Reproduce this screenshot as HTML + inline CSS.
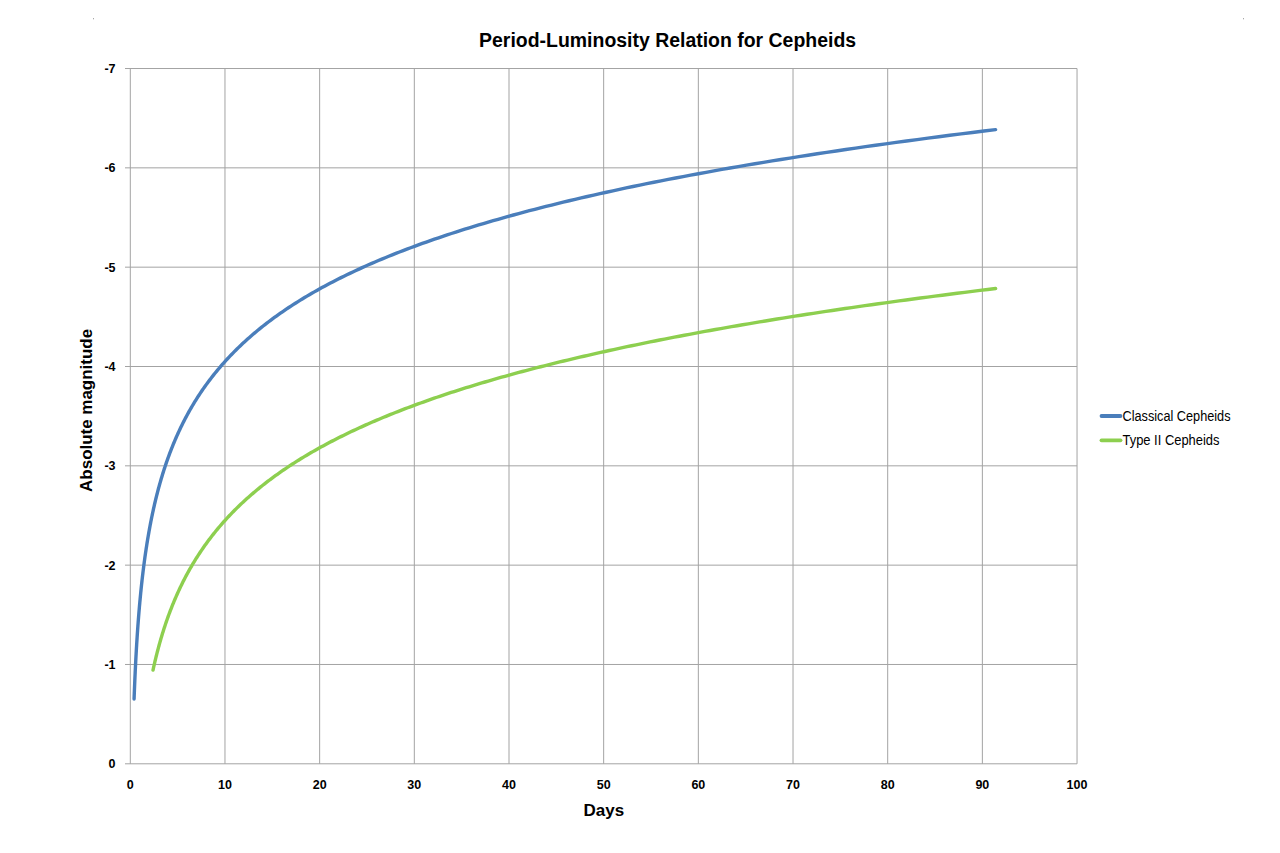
<!DOCTYPE html>
<html><head><meta charset="utf-8"><style>
html,body{margin:0;padding:0;background:#fff;width:1280px;height:853px;overflow:hidden}
svg{position:absolute;left:0;top:0}
</style></head><body>
<svg width="1280" height="853" viewBox="0 0 1280 853">
<rect x="93" y="18" width="1" height="1" fill="#a8a8a8"/><rect x="93" y="19" width="1" height="1" fill="#e4e4e4"/>
<rect x="1243" y="18" width="1" height="1" fill="#a8a8a8"/><rect x="1243" y="19" width="1" height="1" fill="#e4e4e4"/>
<g stroke="#a3a3a3" stroke-width="1" fill="none">
<line x1="130.30" y1="68.52" x2="130.30" y2="763.81"/>
<line x1="224.97" y1="68.52" x2="224.97" y2="763.81"/>
<line x1="319.65" y1="68.52" x2="319.65" y2="763.81"/>
<line x1="414.32" y1="68.52" x2="414.32" y2="763.81"/>
<line x1="509.00" y1="68.52" x2="509.00" y2="763.81"/>
<line x1="603.67" y1="68.52" x2="603.67" y2="763.81"/>
<line x1="698.34" y1="68.52" x2="698.34" y2="763.81"/>
<line x1="793.02" y1="68.52" x2="793.02" y2="763.81"/>
<line x1="887.69" y1="68.52" x2="887.69" y2="763.81"/>
<line x1="982.37" y1="68.52" x2="982.37" y2="763.81"/>
<line x1="1077.04" y1="68.52" x2="1077.04" y2="763.81"/>
<line x1="125" y1="68.52" x2="1077.04" y2="68.52"/>
<line x1="125" y1="167.85" x2="1077.04" y2="167.85"/>
<line x1="125" y1="267.17" x2="1077.04" y2="267.17"/>
<line x1="125" y1="366.50" x2="1077.04" y2="366.50"/>
<line x1="125" y1="465.83" x2="1077.04" y2="465.83"/>
<line x1="125" y1="565.15" x2="1077.04" y2="565.15"/>
<line x1="125" y1="664.48" x2="1077.04" y2="664.48"/>
<line x1="125" y1="763.81" x2="1077.04" y2="763.81"/>
</g>
<polyline fill="none" stroke="#4a7ebb" stroke-width="3.4" stroke-linecap="round" stroke-linejoin="round" points="134.09,698.95 134.14,697.52 134.19,696.10 134.24,694.68 134.30,693.25 134.35,691.83 134.41,690.41 134.46,688.98 134.52,687.56 134.58,686.14 134.64,684.71 134.70,683.29 134.76,681.87 134.82,680.44 134.88,679.02 134.94,677.60 135.01,676.17 135.07,674.75 135.14,673.33 135.20,671.90 135.27,670.48 135.34,669.06 135.41,667.63 135.48,666.21 135.55,664.79 135.62,663.36 135.69,661.94 135.76,660.52 135.84,659.09 135.91,657.67 135.99,656.25 136.07,654.82 136.15,653.40 136.23,651.98 136.31,650.55 136.39,649.13 136.47,647.71 136.56,646.28 136.64,644.86 136.73,643.44 136.82,642.01 136.91,640.59 137.00,639.17 137.09,637.74 137.18,636.32 137.28,634.90 137.37,633.47 137.47,632.05 137.57,630.63 137.67,629.20 137.77,627.78 137.87,626.36 137.97,624.93 138.08,623.51 138.18,622.09 138.29,620.66 138.40,619.24 138.51,617.82 138.62,616.39 138.74,614.97 138.85,613.55 138.97,612.12 139.09,610.70 139.21,609.28 139.33,607.85 139.45,606.43 139.58,605.00 139.71,603.58 139.83,602.16 139.96,600.73 140.10,599.31 140.23,597.89 140.37,596.46 140.50,595.04 140.64,593.62 140.79,592.19 140.93,590.77 141.07,589.35 141.22,587.92 141.37,586.50 141.52,585.08 141.68,583.65 141.83,582.23 141.99,580.81 142.15,579.38 142.31,577.96 142.47,576.54 142.64,575.11 142.81,573.69 142.98,572.27 143.15,570.84 143.33,569.42 143.51,568.00 143.69,566.57 143.87,565.15 144.06,563.73 144.25,562.30 144.44,560.88 144.63,559.46 144.82,558.03 145.02,556.61 145.22,555.19 145.43,553.76 145.64,552.34 145.85,550.92 146.06,549.49 146.27,548.07 146.49,546.65 146.71,545.22 146.94,543.80 147.16,542.38 147.40,540.95 147.63,539.53 147.87,538.11 148.11,536.68 148.35,535.26 148.60,533.84 148.85,532.41 149.10,530.99 149.36,529.57 149.62,528.14 149.88,526.72 150.15,525.30 150.42,523.87 150.70,522.45 150.97,521.03 151.26,519.60 151.54,518.18 151.83,516.76 152.13,515.33 152.43,513.91 152.73,512.49 153.04,511.06 153.35,509.64 153.66,508.22 153.98,506.79 154.31,505.37 154.63,503.94 154.97,502.52 155.30,501.10 155.65,499.67 155.99,498.25 156.34,496.83 156.70,495.40 157.06,493.98 157.43,492.56 157.80,491.13 158.17,489.71 158.55,488.29 158.94,486.86 159.33,485.44 159.73,484.02 160.13,482.59 160.54,481.17 160.95,479.75 161.37,478.32 161.80,476.90 162.23,475.48 162.66,474.05 163.11,472.63 163.55,471.21 164.01,469.78 164.47,468.36 164.94,466.94 165.41,465.51 165.89,464.09 166.38,462.67 166.87,461.24 167.37,459.82 167.88,458.40 168.39,456.97 168.91,455.55 169.44,454.13 169.97,452.70 170.52,451.28 171.07,449.86 171.62,448.43 172.19,447.01 172.76,445.59 173.34,444.16 173.93,442.74 174.53,441.32 175.13,439.89 175.74,438.47 176.37,437.05 177.00,435.62 177.63,434.20 178.28,432.78 178.94,431.35 179.60,429.93 180.28,428.51 180.96,427.08 181.65,425.66 182.35,424.24 183.07,422.81 183.79,421.39 184.52,419.97 185.26,418.54 186.01,417.12 186.77,415.70 187.54,414.27 188.33,412.85 189.12,411.43 189.92,410.00 190.74,408.58 191.57,407.16 192.40,405.73 193.25,404.31 194.11,402.89 194.99,401.46 195.87,400.04 196.77,398.61 197.68,397.19 198.60,395.77 199.53,394.34 200.48,392.92 201.44,391.50 202.41,390.07 203.39,388.65 204.39,387.23 205.41,385.80 206.43,384.38 207.47,382.96 208.53,381.53 209.60,380.11 210.68,378.69 211.78,377.26 212.90,375.84 214.03,374.42 215.17,372.99 216.33,371.57 217.51,370.15 218.70,368.72 219.91,367.30 221.13,365.88 222.37,364.45 223.63,363.03 224.91,361.61 226.20,360.18 227.51,358.76 228.84,357.34 230.19,355.91 231.56,354.49 232.94,353.07 234.34,351.64 235.77,350.22 237.21,348.80 238.67,347.37 240.15,345.95 241.65,344.53 243.17,343.10 244.72,341.68 246.28,340.26 247.87,338.83 249.47,337.41 251.10,335.99 252.76,334.56 254.43,333.14 256.13,331.72 257.85,330.29 259.59,328.87 261.36,327.45 263.15,326.02 264.97,324.60 266.81,323.18 268.67,321.75 270.57,320.33 272.48,318.91 274.43,317.48 276.40,316.06 278.39,314.64 280.42,313.21 282.47,311.79 284.55,310.37 286.66,308.94 288.80,307.52 290.97,306.10 293.16,304.67 295.39,303.25 297.65,301.83 299.93,300.40 302.25,298.98 304.60,297.55 306.99,296.13 309.40,294.71 311.85,293.28 314.33,291.86 316.85,290.44 319.40,289.01 321.98,287.59 324.60,286.17 327.26,284.74 329.95,283.32 332.68,281.90 335.45,280.47 338.25,279.05 341.10,277.63 343.98,276.20 346.90,274.78 349.86,273.36 352.86,271.93 355.91,270.51 358.99,269.09 362.12,267.66 365.29,266.24 368.50,264.82 371.76,263.39 375.06,261.97 378.40,260.55 381.80,259.12 385.23,257.70 388.72,256.28 392.25,254.85 395.83,253.43 399.46,252.01 403.14,250.58 406.87,249.16 410.65,247.74 414.49,246.31 418.37,244.89 422.31,243.47 426.30,242.04 430.35,240.62 434.45,239.20 438.61,237.77 442.83,236.35 447.10,234.93 451.43,233.50 455.82,232.08 460.27,230.66 464.78,229.23 469.35,227.81 473.99,226.39 478.69,224.96 483.45,223.54 488.28,222.12 493.17,220.69 498.13,219.27 503.16,217.85 508.26,216.42 513.43,215.00 518.67,213.58 523.98,212.15 529.36,210.73 534.81,209.31 540.34,207.88 545.95,206.46 551.63,205.04 557.39,203.61 563.23,202.19 569.15,200.77 575.15,199.34 581.23,197.92 587.40,196.50 593.65,195.07 599.98,193.65 606.40,192.22 612.91,190.80 619.51,189.38 626.20,187.95 632.98,186.53 639.85,185.11 646.81,183.68 653.88,182.26 661.03,180.84 668.29,179.41 675.65,177.99 683.10,176.57 690.66,175.14 698.32,173.72 706.09,172.30 713.96,170.87 721.94,169.45 730.02,168.03 738.22,166.60 746.54,165.18 754.96,163.76 763.50,162.33 772.16,160.91 780.93,159.49 789.83,158.06 798.84,156.64 807.98,155.22 817.25,153.79 826.64,152.37 836.16,150.95 845.81,149.52 855.59,148.10 865.51,146.68 875.56,145.25 885.75,143.83 896.08,142.41 906.55,140.98 917.16,139.56 927.92,138.14 938.82,136.71 949.87,135.29 961.08,133.87 972.44,132.44 983.95,131.02 995.62,129.60"/>
<polyline fill="none" stroke="#8dcf4f" stroke-width="3.4" stroke-linecap="round" stroke-linejoin="round" points="153.02,670.05 153.23,669.10 153.44,668.15 153.65,667.19 153.86,666.24 154.08,665.28 154.30,664.33 154.52,663.38 154.74,662.42 154.96,661.47 155.19,660.51 155.41,659.56 155.64,658.61 155.88,657.65 156.11,656.70 156.34,655.75 156.58,654.79 156.82,653.84 157.07,652.88 157.31,651.93 157.56,650.98 157.81,650.02 158.06,649.07 158.31,648.11 158.57,647.16 158.83,646.21 159.09,645.25 159.35,644.30 159.62,643.35 159.88,642.39 160.15,641.44 160.43,640.48 160.70,639.53 160.98,638.58 161.26,637.62 161.54,636.67 161.83,635.71 162.12,634.76 162.41,633.81 162.70,632.85 163.00,631.90 163.30,630.95 163.60,629.99 163.90,629.04 164.21,628.08 164.52,627.13 164.83,626.18 165.15,625.22 165.47,624.27 165.79,623.32 166.11,622.36 166.44,621.41 166.77,620.45 167.10,619.50 167.44,618.55 167.78,617.59 168.12,616.64 168.47,615.68 168.82,614.73 169.17,613.78 169.52,612.82 169.88,611.87 170.24,610.92 170.61,609.96 170.98,609.01 171.35,608.05 171.73,607.10 172.10,606.15 172.49,605.19 172.87,604.24 173.26,603.28 173.65,602.33 174.05,601.38 174.45,600.42 174.85,599.47 175.26,598.52 175.67,597.56 176.09,596.61 176.50,595.65 176.93,594.70 177.35,593.75 177.78,592.79 178.22,591.84 178.66,590.88 179.10,589.93 179.54,588.98 179.99,588.02 180.45,587.07 180.91,586.12 181.37,585.16 181.84,584.21 182.31,583.25 182.78,582.30 183.26,581.35 183.75,580.39 184.23,579.44 184.73,578.48 185.23,577.53 185.73,576.58 186.23,575.62 186.75,574.67 187.26,573.72 187.78,572.76 188.31,571.81 188.84,570.85 189.37,569.90 189.91,568.95 190.46,567.99 191.01,567.04 191.56,566.09 192.12,565.13 192.69,564.18 193.26,563.22 193.83,562.27 194.41,561.32 195.00,560.36 195.59,559.41 196.19,558.45 196.79,557.50 197.40,556.55 198.01,555.59 198.63,554.64 199.26,553.69 199.89,552.73 200.52,551.78 201.16,550.82 201.81,549.87 202.46,548.92 203.12,547.96 203.79,547.01 204.46,546.05 205.14,545.10 205.82,544.15 206.51,543.19 207.21,542.24 207.91,541.29 208.62,540.33 209.34,539.38 210.06,538.42 210.79,537.47 211.53,536.52 212.27,535.56 213.02,534.61 213.77,533.65 214.54,532.70 215.31,531.75 216.08,530.79 216.87,529.84 217.66,528.89 218.46,527.93 219.26,526.98 220.08,526.02 220.90,525.07 221.73,524.12 222.56,523.16 223.41,522.21 224.26,521.25 225.12,520.30 225.98,519.35 226.86,518.39 227.74,517.44 228.63,516.49 229.53,515.53 230.44,514.58 231.35,513.62 232.28,512.67 233.21,511.72 234.15,510.76 235.10,509.81 236.06,508.86 237.02,507.90 238.00,506.95 238.98,505.99 239.98,505.04 240.98,504.09 241.99,503.13 243.01,502.18 244.04,501.22 245.08,500.27 246.13,499.32 247.19,498.36 248.26,497.41 249.34,496.46 250.42,495.50 251.52,494.55 252.63,493.59 253.75,492.64 254.88,491.69 256.02,490.73 257.16,489.78 258.32,488.82 259.49,487.87 260.68,486.92 261.87,485.96 263.07,485.01 264.28,484.06 265.51,483.10 266.74,482.15 267.99,481.19 269.25,480.24 270.52,479.29 271.80,478.33 273.10,477.38 274.40,476.42 275.72,475.47 277.05,474.52 278.39,473.56 279.74,472.61 281.11,471.66 282.49,470.70 283.88,469.75 285.28,468.79 286.70,467.84 288.13,466.89 289.57,465.93 291.03,464.98 292.50,464.02 293.98,463.07 295.47,462.12 296.98,461.16 298.51,460.21 300.05,459.26 301.60,458.30 303.16,457.35 304.74,456.39 306.34,455.44 307.95,454.49 309.57,453.53 311.21,452.58 312.86,451.63 314.53,450.67 316.22,449.72 317.92,448.76 319.63,447.81 321.36,446.86 323.11,445.90 324.87,444.95 326.65,443.99 328.44,443.04 330.25,442.09 332.08,441.13 333.93,440.18 335.79,439.23 337.67,438.27 339.56,437.32 341.47,436.36 343.41,435.41 345.35,434.46 347.32,433.50 349.30,432.55 351.30,431.59 353.32,430.64 355.36,429.69 357.42,428.73 359.50,427.78 361.59,426.83 363.71,425.87 365.84,424.92 367.99,423.96 370.17,423.01 372.36,422.06 374.57,421.10 376.80,420.15 379.06,419.19 381.33,418.24 383.63,417.29 385.94,416.33 388.28,415.38 390.64,414.43 393.02,413.47 395.42,412.52 397.84,411.56 400.29,410.61 402.75,409.66 405.24,408.70 407.76,407.75 410.29,406.79 412.85,405.84 415.44,404.89 418.04,403.93 420.67,402.98 423.33,402.03 426.01,401.07 428.71,400.12 431.44,399.16 434.19,398.21 436.97,397.26 439.77,396.30 442.60,395.35 445.45,394.39 448.33,393.44 451.24,392.49 454.18,391.53 457.14,390.58 460.12,389.63 463.14,388.67 466.18,387.72 469.25,386.76 472.35,385.81 475.48,384.86 478.63,383.90 481.82,382.95 485.03,382.00 488.27,381.04 491.54,380.09 494.85,379.13 498.18,378.18 501.54,377.23 504.93,376.27 508.36,375.32 511.81,374.36 515.30,373.41 518.82,372.46 522.37,371.50 525.96,370.55 529.57,369.60 533.22,368.64 536.91,367.69 540.62,366.73 544.37,365.78 548.16,364.83 551.98,363.87 555.83,362.92 559.72,361.96 563.65,361.01 567.61,360.06 571.61,359.10 575.64,358.15 579.71,357.20 583.82,356.24 587.97,355.29 592.15,354.33 596.37,353.38 600.63,352.43 604.93,351.47 609.27,350.52 613.65,349.56 618.07,348.61 622.52,347.66 627.02,346.70 631.56,345.75 636.15,344.80 640.77,343.84 645.44,342.89 650.15,341.93 654.90,340.98 659.69,340.03 664.53,339.07 669.41,338.12 674.34,337.16 679.32,336.21 684.33,335.26 689.40,334.30 694.51,333.35 699.67,332.40 704.87,331.44 710.12,330.49 715.42,329.53 720.77,328.58 726.17,327.63 731.62,326.67 737.11,325.72 742.66,324.77 748.26,323.81 753.91,322.86 759.61,321.90 765.36,320.95 771.16,320.00 777.02,319.04 782.93,318.09 788.90,317.13 794.92,316.18 801.00,315.23 807.13,314.27 813.31,313.32 819.56,312.37 825.86,311.41 832.22,310.46 838.63,309.50 845.11,308.55 851.64,307.60 858.23,306.64 864.89,305.69 871.60,304.73 878.38,303.78 885.22,302.83 892.12,301.87 899.08,300.92 906.11,299.97 913.20,299.01 920.36,298.06 927.58,297.10 934.87,296.15 942.22,295.20 949.64,294.24 957.13,293.29 964.69,292.33 972.32,291.38 980.01,290.43 987.78,289.47 995.62,288.52"/>
<g font-family="Liberation Sans" font-weight="bold" font-size="12.5" fill="#000">
<text x="115.5" y="73.02" text-anchor="end">-7</text>
<text x="115.5" y="172.35" text-anchor="end">-6</text>
<text x="115.5" y="271.67" text-anchor="end">-5</text>
<text x="115.5" y="371.00" text-anchor="end">-4</text>
<text x="115.5" y="470.33" text-anchor="end">-3</text>
<text x="115.5" y="569.65" text-anchor="end">-2</text>
<text x="115.5" y="668.98" text-anchor="end">-1</text>
<text x="115.5" y="768.31" text-anchor="end">0</text>
<text x="130.30" y="789" text-anchor="middle">0</text>
<text x="224.97" y="789" text-anchor="middle">10</text>
<text x="319.65" y="789" text-anchor="middle">20</text>
<text x="414.32" y="789" text-anchor="middle">30</text>
<text x="509.00" y="789" text-anchor="middle">40</text>
<text x="603.67" y="789" text-anchor="middle">50</text>
<text x="698.34" y="789" text-anchor="middle">60</text>
<text x="793.02" y="789" text-anchor="middle">70</text>
<text x="887.69" y="789" text-anchor="middle">80</text>
<text x="982.37" y="789" text-anchor="middle">90</text>
<text x="1077.04" y="789" text-anchor="middle">100</text>
</g>
<text x="667.6" y="46.8" text-anchor="middle" font-family="Liberation Sans" font-weight="bold" font-size="20" textLength="377" lengthAdjust="spacingAndGlyphs">Period-Luminosity Relation for Cepheids</text>
<text x="603.8" y="815.9" text-anchor="middle" font-family="Liberation Sans" font-weight="bold" font-size="17">Days</text>
<text transform="translate(91.9,410.4) rotate(-90)" text-anchor="middle" font-family="Liberation Sans" font-weight="bold" font-size="17" textLength="163" lengthAdjust="spacingAndGlyphs">Absolute magnitude</text>
<line x1="1101.5" y1="416" x2="1120.5" y2="416" stroke="#4a7ebb" stroke-width="3.8" stroke-linecap="round"/>
<line x1="1101.5" y1="440.3" x2="1120.5" y2="440.3" stroke="#8dcf4f" stroke-width="3.8" stroke-linecap="round"/>
<g font-family="Liberation Sans" font-size="14" fill="#000">
<text x="1122.5" y="421" textLength="108" lengthAdjust="spacingAndGlyphs">Classical Cepheids</text>
<text x="1122.5" y="445.3" textLength="97" lengthAdjust="spacingAndGlyphs">Type II Cepheids</text>
</g>
</svg>
</body></html>
